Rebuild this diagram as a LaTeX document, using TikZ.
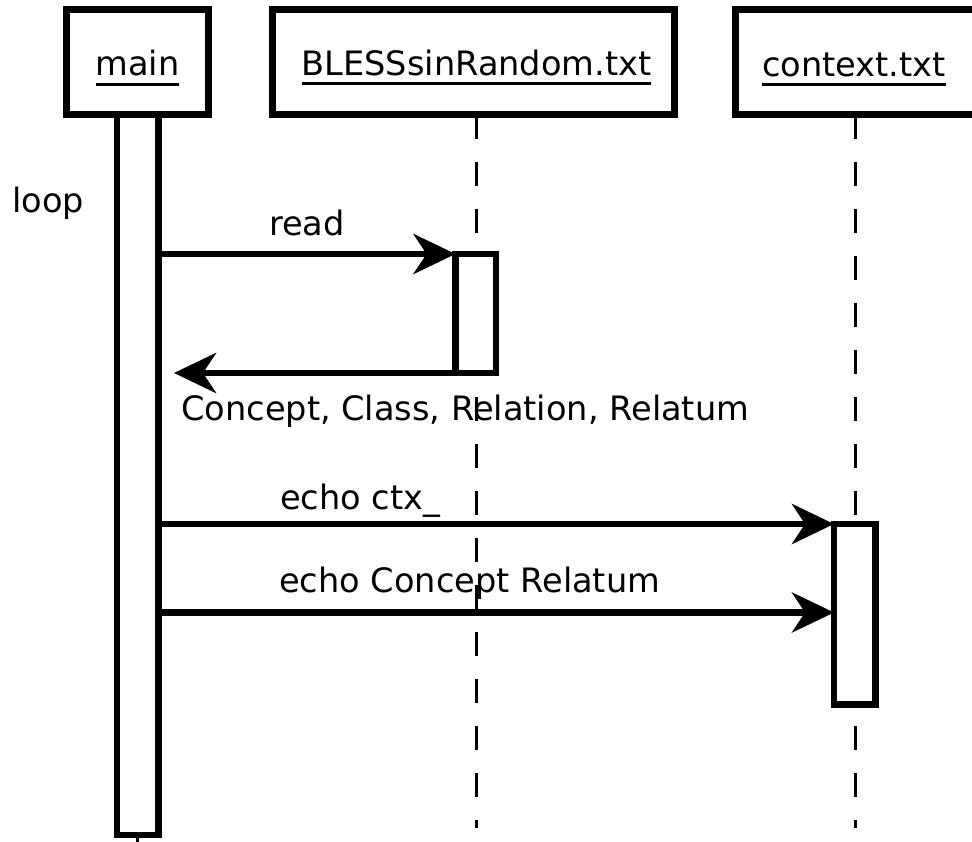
\documentclass[tikz,border=0pt]{standalone}
\usepackage{fontspec}
\setmainfont{DejaVu Sans}
\usetikzlibrary{arrows.meta}
% underlined participant name with a heavier rule
\newcommand\headname[1]{\setbox0\hbox{#1}\rlap{\rule[-10pt]{\wd0}{3pt}}\box0}
\begin{document}
\begin{tikzpicture}[x=1pt,y=-1pt,
  every node/.style={font=\fontsize{33.6pt}{40pt}\selectfont},
  headbox/.style={draw,line width=7pt,fill=white,inner sep=0pt,outer sep=0pt},
  bar/.style={draw,line width=6.5pt,fill=white,inner sep=0pt,outer sep=0pt},
  lifeline/.style={line width=3pt,dash pattern=on 24pt off 23pt},
  msg/.style={line width=6.5pt,-{Stealth[length=42pt,width=40pt,inset=13pt]}},
  lbl/.style={inner sep=0pt,anchor=base west}]
\useasboundingbox (0,0) rectangle (972,842);
\fill[white] (0,0) rectangle (972,842);

% participants
\node[headbox,minimum width=141.5pt,minimum height=105.5pt] (main) at (137.3,62.25) {};
\node[headbox,minimum width=402pt,minimum height=105.5pt] (bless) at (473.5,62.25) {};
\node[headbox,minimum width=240pt,minimum height=105.5pt] (ctx) at (855,62.25) {};
\node[inner sep=0pt,anchor=base] (mainname) at (137.5,76) {\headname{main}};
\node[inner sep=0pt,anchor=base] (blessname) at (476.5,75.5) {\headname{BLESSsinRandom.txt}};
\node[inner sep=0pt,anchor=base] (ctxname) at (854,76.5) {\headname{context.txt}};

% message labels
\node[lbl] (looplbl) at (12,213) {loop};
\node[lbl] (readlbl) at (269,236) {read};
\node[lbl] (retlbl) at (181,420) {Concept, Class, Relation, Relatum};
\node[lbl] (ctxlbl) at (280,509) {echo ctx\_};
\node[lbl] (pairlbl) at (279,592) {echo Concept Relatum};

% lifelines
\coordinate (blesstop) at (476,115);
\coordinate (blessend) at (476,828);
\coordinate (ctxtop) at (855,115);
\coordinate (ctxend) at (855,828);
\coordinate (mainend) at (137.75,845);
\draw[lifeline] (blesstop) -- (blessend);
\draw[lifeline] (ctxtop) -- (ctxend);

% activation bars
\node[bar,minimum width=41.5pt,minimum height=720pt] (mainbar) at (137.75,475) {};
\draw[line width=3pt] (mainbar.south) -- (mainend);
\node[bar,minimum width=40.5pt,minimum height=119pt] (blessbar) at (475.75,313.5) {};
\node[bar,minimum width=41.5pt,minimum height=180.5pt] (ctxbar) at (854.75,614.25) {};

% messages
\coordinate (retend) at (174,373);
\coordinate (row2) at (0,612.5);
\draw[msg] (mainbar.east |- blessbar.north west) -- (blessbar.north west);
\draw[msg] (blessbar.south west) -- (retend);
\draw[msg] (mainbar.east |- ctxbar.north west) -- (ctxbar.north west);
\draw[msg] (mainbar.east |- row2) -- (ctxbar.west |- row2);
\end{tikzpicture}
\end{document}
